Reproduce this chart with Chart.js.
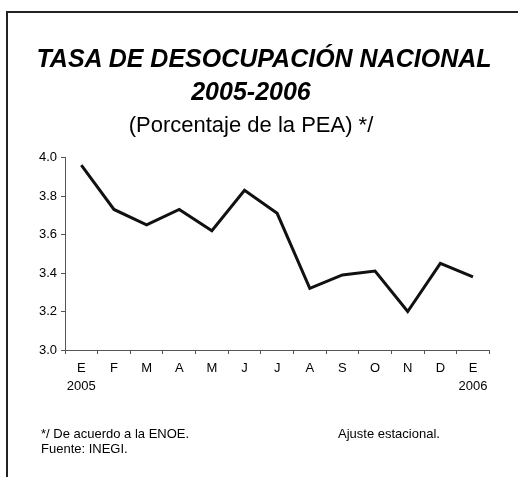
<!DOCTYPE html>
<html>
<head>
<meta charset="utf-8">
<script src="https://cdn.jsdelivr.net/npm/chart.js@4/dist/chart.umd.min.js"></script>
<style>
  body { margin: 0; background: #fff; font-family: "Liberation Sans", Arial, sans-serif; color: #000; }
  #wrap { position: relative; width: 518px; height: 477px; overflow: hidden; }
  #frame { position: absolute; left: 6px; top: 11px; width: 700px; height: 700px;
           border-top: 2px solid #222; border-left: 2px solid #222; }
  canvas { position: absolute; left: 0; top: 0; }
  .head { position: absolute; width: 500px; text-align: center; white-space: nowrap; }
  .t1 { left: 14px; top: 44px; font: italic bold 25px "Liberation Sans", Arial, sans-serif; }
  .t2 { left: 1px; top: 77px; font: italic bold 25px "Liberation Sans", Arial, sans-serif; }
  .t3 { left: 1px; top: 112px; font: 22px "Liberation Sans", Arial, sans-serif; }
  .note { position: absolute; font-size: 13px; line-height: 15px; white-space: nowrap; }
</style>
</head>
<body>
<div id="wrap">
  <div id="frame"></div>
  <canvas id="lineCanvas" width="518" height="477"></canvas>
  <div class="head t1">TASA DE DESOCUPACIÓN NACIONAL</div>
  <div class="head t2">2005-2006</div>
  <div class="head t3">(Porcentaje de la PEA) */</div>
  <div class="note" style="left:41px; top:426px;">*/ De acuerdo a la ENOE.<br>Fuente: INEGI.</div>
  <div class="note" style="left:338px; top:426px;">Ajuste estacional.</div>
</div>
<script>
// meses ene 2005 - ene 2006
var months = ["E", "F", "M", "A", "M", "J", "J", "A", "S", "O", "N", "D", "E"];
var yearLabels = ["2005", "", "", "", "", "", "", "", "", "", "", "", "2006"];
var tasa = [3.96, 3.73, 3.65, 3.73, 3.62, 3.83, 3.71, 3.32, 3.39, 3.41, 3.20, 3.45, 3.38];
var yTicks = [3.0, 3.2, 3.4, 3.6, 3.8, 4.0];

var labels = months.map(function (m, i) {
    return yearLabels[i] ? [m, yearLabels[i]] : [m];
});

var ctx = document.getElementById('lineCanvas').getContext('2d');
var chart = new Chart(ctx, {
    type: "line",
    data: {
        labels: labels,
        datasets: [
            {label: "Tasa", data: tasa, fill: false, borderColor: '#111', borderWidth: 3,
             pointRadius: 0, tension: 0}
        ]
    },
    options: {
        responsive: false,
        animation: false,
        layout: {padding: {top: 157.5, right: 28.7, bottom: 67, left: 0}},
        plugins: {legend: {display: false}, tooltip: {enabled: false}},
        scales: {
            x: {
                offset: true,
                grid: {offset: true, drawOnChartArea: false, tickLength: 4, color: '#555'},
                border: {color: '#555', width: 1},
                ticks: {color: '#000', padding: 5.5, maxRotation: 0, autoSkip: false,
                        font: {family: 'Liberation Sans, Arial', size: 13, lineHeight: 1.4}},
                afterFit: function (s) { s.height = 60; }
            },
            y: {
                min: yTicks[0],
                max: yTicks[yTicks.length - 1],
                afterBuildTicks: function (s) {
                    s.ticks = yTicks.map(function (v) { return {value: v}; });
                },
                grid: {drawOnChartArea: false, tickLength: 4, color: '#555'},
                border: {color: '#555', width: 1},
                ticks: {color: '#000', padding: 4,
                        font: {family: 'Liberation Sans, Arial', size: 13},
                        callback: function (v) { return Number(v).toFixed(1); }},
                afterFit: function (s) { s.width = 65; }
            }
        }
    }
});
</script>
</body>
</html>
